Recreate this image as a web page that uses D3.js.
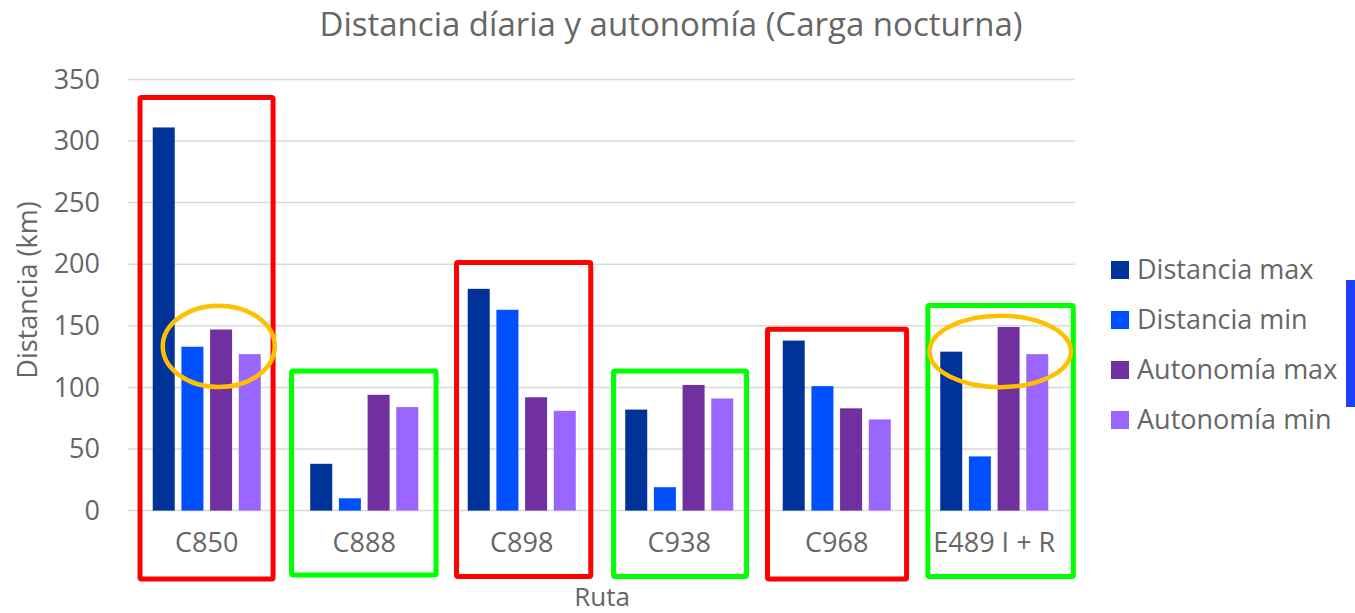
<!DOCTYPE html>
<html>
<head>
<meta charset="utf-8">
<script src="https://cdn.jsdelivr.net/npm/d3@7"></script>
<style>
  body { margin: 0; background: #fff; }
  text { font-family: "Open Sans", sans-serif; fill: #666; }
</style>
</head>
<body>
<svg id="chart" width="1355" height="613"></svg>
<script>
// data
var categories = ["C850", "C888", "C898", "C938", "C968", "E489 I + R"];
var seriesNames = ["Distancia max", "Distancia min", "Autonomía max", "Autonomía min"];
var seriesColors = ["#003399", "#0050FF", "#7030A0", "#9966FF"];
var distMax = [311, 38, 180, 82, 138, 129];
var distMin = [133, 10, 163, 19, 101, 44];
var autoMax = [147, 94, 92, 102, 83, 149];
var autoMin = [127, 84, 81, 91, 74, 127];
var yTicks = [0, 50, 100, 150, 200, 250, 300, 350];

// hand drawn highlights on top of the chart
var boxes = [
  {cat: "C850", color: "#FF0000", dl: -12.7, dr: 12.3, top: 335.4, bottom: -55.5},
  {cat: "C888", color: "#00FF00", dl: -18.7, dr: 17.8, top: 113.3, bottom: -52.2},
  {cat: "C898", color: "#FF0000", dl: -11.2, dr: 15, top: 201.3, bottom: -53.5},
  {cat: "C938", color: "#00FF00", dl: -11.7, dr: 13.3, top: 113.3, bottom: -53.5},
  {cat: "C968", color: "#FF0000", dl: -15.2, dr: 15.8, top: 147.3, bottom: -55.5},
  {cat: "E489 I + R", color: "#00FF00", dl: -12.4, dr: 25, top: 166.4, bottom: -53.5}
];
var rings = [
  {cat: "C850", dx: 12, value: 133.3, rx: 56, ry: 40.7},
  {cat: "E489 I + R", dx: 6, value: 129.2, rx: 70.7, ry: 35.7}
];

var rows = categories.map(function(c, i) {
  return {cat: c, values: [distMax[i], distMin[i], autoMax[i], autoMin[i]]};
});

var svg = d3.select("#chart");
var plotLeft = 128, plotRight = 1073, plotTop = 79.4, plotBottom = 510.6;

var x0 = d3.scaleBand().domain(categories).range([plotLeft, plotRight])
  .paddingInner(0.314).paddingOuter(0.157);
var x1 = d3.scaleBand().domain(d3.range(4)).range([0, x0.bandwidth()])
  .paddingInner(0.2326).paddingOuter(0);
var y = d3.scaleLinear().domain([0, 350]).range([plotBottom, plotTop]);

// gridlines
svg.append("g").selectAll("line").data(yTicks).enter().append("line")
  .attr("x1", plotLeft).attr("x2", plotRight + 2)
  .attr("y1", function(d){ return y(d); })
  .attr("y2", function(d){ return y(d); })
  .attr("stroke", "#d9d9d9").attr("stroke-width", 1.5);

// y axis labels
var yAxis = svg.append("g").attr("transform", "translate(" + plotLeft + ",0)")
  .call(d3.axisLeft(y).tickValues(yTicks).tickSize(0).tickPadding(28));
yAxis.select(".domain").remove();
yAxis.selectAll("text").style("font-size", "27px").attr("fill", "#666")
  .style("font-family", "'Open Sans', sans-serif");

// bars
var groups = svg.append("g").selectAll("g").data(rows).enter().append("g")
  .attr("transform", function(d){ return "translate(" + x0(d.cat) + ",0)"; });
groups.selectAll("rect").data(function(d){ return d.values; }).enter().append("rect")
  .attr("x", function(d, i){ return x1(i); })
  .attr("width", x1.bandwidth())
  .attr("y", function(d){ return y(d); })
  .attr("height", function(d){ return y(0) - y(d); })
  .attr("fill", function(d, i){ return seriesColors[i]; });

// x axis labels
var xAxis = svg.append("g").attr("transform", "translate(0," + plotBottom + ")")
  .call(d3.axisBottom(x0).tickSize(0).tickPadding(22));
xAxis.select(".domain").remove();
xAxis.selectAll("text").style("font-size", "27px").attr("fill", "#666")
  .style("font-family", "'Open Sans', sans-serif");

// title + axis titles
svg.append("text").attr("x", 671).attr("y", 36).attr("text-anchor", "middle")
  .style("font-size", "33px").text("Distancia díaria y autonomía (Carga nocturna)");
svg.append("text").attr("transform", "translate(37,290) rotate(-90)")
  .attr("text-anchor", "middle").style("font-size", "27px").text("Distancia (km)");
svg.append("text").attr("x", 602).attr("y", 606).attr("text-anchor", "middle")
  .style("font-size", "26px").text("Ruta");

// legend
var legend = svg.append("g").selectAll("g").data(seriesNames).enter().append("g")
  .attr("transform", function(d, i){ return "translate(1111," + (261 + i * 50) + ")"; });
legend.append("rect").attr("width", 18).attr("height", 18)
  .attr("fill", function(d, i){ return seriesColors[i]; });
legend.append("text").attr("x", 26).attr("y", 17.5)
  .style("font-size", "27px").text(function(d){ return d; });

// highlight boxes
svg.append("g").selectAll("rect").data(boxes).enter().append("rect")
  .attr("x", function(d){ return x0(d.cat) + d.dl; })
  .attr("width", function(d){ return x0.bandwidth() - d.dl + d.dr; })
  .attr("y", function(d){ return y(d.top); })
  .attr("height", function(d){ return y(d.bottom) - y(d.top); })
  .attr("rx", 1.5)
  .attr("fill", "none").attr("stroke", function(d){ return d.color; })
  .attr("stroke-width", 5);

svg.append("g").selectAll("ellipse").data(rings).enter().append("ellipse")
  .attr("cx", function(d){ return x0(d.cat) + x0.bandwidth() / 2 + d.dx; })
  .attr("cy", function(d){ return y(d.value); })
  .attr("rx", function(d){ return d.rx; })
  .attr("ry", function(d){ return d.ry; })
  .attr("fill", "none").attr("stroke", "#FFC000").attr("stroke-width", 4.5);

// stray blue strip at the right edge
svg.append("rect").attr("x", 1346).attr("y", 280).attr("width", 9).attr("height", 127)
  .attr("fill", "#1F3FFF");
</script>
</body>
</html>
